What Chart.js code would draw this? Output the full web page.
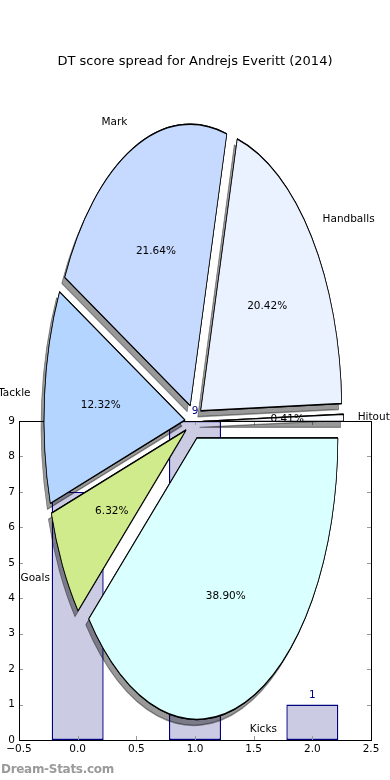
<!DOCTYPE html>
<html>
<head>
<meta charset="utf-8">
<script src="https://cdn.jsdelivr.net/npm/chart.js@4.4.0/dist/chart.umd.min.js"></script>
<style>
body { margin: 0; background: #fff; }
#wrap { position: relative; width: 390px; height: 780px; overflow: hidden; font-family: 'DejaVu Sans', sans-serif; }
canvas { position: absolute; left: 0; top: 0; }
#title { position: absolute; top: 53px; left: 0; width: 390px; text-align: center; font-size: 13px; line-height: 15px; color: #000; }
#credit { position: absolute; left: 1px; top: 762px; font-size: 12px; color: #9a9a9a; font-weight: bold; letter-spacing: -0.3px; }
</style>
</head>
<body>
<div id="wrap">
  <canvas id="bars" width="390" height="780"></canvas>
  <canvas id="pie" width="390" height="780"></canvas>
  <div id="title">DT score spread for Andrejs Everitt (2014)</div>
  <div id="credit">Dream-Stats.com</div>
</div>
<script>
// pie slices, clockwise from 3 o'clock
const sliceLabels = ['Kicks', 'Goals', 'Tackle', 'Mark', 'Handballs', 'Hitout'];
const slicePercents = [38.90, 6.32, 12.32, 21.64, 20.42, 0.41];
const sliceColors = ['#d9ffff', '#d0eb8c', '#b4d5ff', '#c6d9ff', '#ebf2ff', '#f9fbff'];

// bars underneath
const barX = [0, 1, 2];
const barValues = [7, 9, 1];
const xTicks = [-0.5, 0, 0.5, 1, 1.5, 2, 2.5];
const yTicks = [0, 1, 2, 3, 4, 5, 6, 7, 8, 9];

const FONT = 'DejaVu Sans';
const explode = 0.0624;
const stretch = 1.995; // pie axes are not square, so it is an ellipse

// ---- bar chart ----
const barBox = {
  id: 'barBox',
  afterDatasetsDraw(chart) {
    const ctx = chart.ctx;
    const meta = chart.getDatasetMeta(0);
    ctx.save();
    ctx.fillStyle = '#000080';
    ctx.font = '10.5px ' + FONT;
    ctx.textAlign = 'center';
    ctx.textBaseline = 'bottom';
    meta.data.forEach(function(bar, i) {
      ctx.fillText(String(barValues[i]), bar.x, bar.y - 4);
    });
    ctx.restore();
  },
  afterDraw(chart) {
    const ctx = chart.ctx;
    const a = chart.chartArea;
    const xs = chart.scales.x, ys = chart.scales.y;
    ctx.save();
    ctx.strokeStyle = '#999';
    ctx.lineWidth = 1;
    ctx.beginPath();
    xTicks.forEach(function(t) {
      const px = Math.round(xs.getPixelForValue(t)) + 0.5;
      ctx.moveTo(px, a.bottom); ctx.lineTo(px, a.bottom - 4);
      ctx.moveTo(px, a.top); ctx.lineTo(px, a.top + 4);
    });
    yTicks.forEach(function(t) {
      const py = Math.round(ys.getPixelForValue(t)) + 0.5;
      ctx.moveTo(a.left, py); ctx.lineTo(a.left + 4, py);
      ctx.moveTo(a.right, py); ctx.lineTo(a.right - 4, py);
    });
    ctx.stroke();
    ctx.strokeStyle = '#000';
    ctx.strokeRect(Math.round(a.left) + 0.5, Math.round(a.top) + 0.5,
      Math.round(a.right - a.left), Math.round(a.bottom - a.top));
    ctx.restore();
  }
};

new Chart(document.getElementById('bars'), {
  type: 'bar',
  data: {
    datasets: [{
      data: barX.map(function(x, i) { return {x: x, y: barValues[i]}; }),
      backgroundColor: '#cbcbe4',
      borderColor: '#000080',
      borderWidth: 1.4,
      borderSkipped: false,
      barPercentage: 0.886,
      categoryPercentage: 1
    }]
  },
  options: {
    responsive: false,
    animation: false,
    devicePixelRatio: 1,
    layout: { padding: { top: 421, right: 19, bottom: 0, left: 0 } },
    plugins: { legend: { display: false }, tooltip: { enabled: false } },
    scales: {
      x: {
        type: 'linear', min: -0.5, max: 2.5, offset: false,
        grid: { display: false, drawTicks: false, offset: false },
        border: { display: false },
        afterBuildTicks(scale) { scale.ticks = xTicks.map(function(v) { return {value: v}; }); },
        afterFit(scale) { scale.height = 40; },
        ticks: {
          color: '#000', padding: 3, maxRotation: 0, autoSkip: false,
          font: { family: FONT, size: 10.5 },
          callback: function(v) { return v.toFixed(1).replace('-', '\u2212'); }
        }
      },
      y: {
        min: 0, max: 9,
        grid: { display: false, drawTicks: false },
        border: { display: false },
        afterBuildTicks(scale) { scale.ticks = yTicks.map(function(v) { return {value: v}; }); },
        afterFit(scale) { scale.width = 19; },
        ticks: {
          color: '#000', padding: 4, autoSkip: false,
          font: { family: FONT, size: 10.5 },
          callback: function(v) { return String(v); }
        }
      }
    }
  },
  plugins: [barBox]
});

// ---- exploded pie on top ----
function sliceCentre(arc) {
  const mid = (arc.startAngle + arc.endAngle) / 2;
  const r = arc.outerRadius;
  return {
    mid: mid,
    x: arc.x + Math.cos(mid) * explode * r,
    y: arc.y + Math.sin(mid) * explode * r * stretch
  };
}

const pieDraw = {
  id: 'pieDraw',
  beforeDatasetsDraw(chart) {
    const ctx = chart.ctx;
    const arcs = chart.getDatasetMeta(0).data;
    [true, false].forEach(function(shadow) {
      arcs.forEach(function(arc) {
        const mid = (arc.startAngle + arc.endAngle) / 2;
        const d = explode * arc.outerRadius;
        ctx.save();
        ctx.translate(arc.x, arc.y);
        ctx.scale(1, stretch);
        ctx.translate(Math.cos(mid) * d - arc.x, Math.sin(mid) * d - arc.y);
        if (shadow) {
          ctx.shadowColor = 'rgba(0,0,0,0.4)';
          ctx.shadowOffsetX = -3;
          ctx.shadowOffsetY = 6;
          ctx.shadowBlur = 0;
        }
        arc.draw(ctx);
        ctx.restore();
      });
    });
    return false;
  },
  afterDraw(chart) {
    const ctx = chart.ctx;
    const arcs = chart.getDatasetMeta(0).data;
    ctx.save();
    ctx.fillStyle = '#000';
    ctx.font = '10.5px ' + FONT;
    ctx.textBaseline = 'middle';
    arcs.forEach(function(arc, i) {
      const c = sliceCentre(arc);
      const r = arc.outerRadius;
      const cos = Math.cos(c.mid), sin = Math.sin(c.mid);
      ctx.textAlign = cos > 0 ? 'left' : 'right';
      ctx.fillText(sliceLabels[i], c.x + cos * 1.1 * r, c.y + sin * 1.1 * r * stretch);
      ctx.textAlign = 'center';
      ctx.fillText(slicePercents[i].toFixed(2) + '%', c.x + cos * 0.6 * r, c.y + sin * 0.6 * r * stretch);
    });
    ctx.restore();
  }
};

new Chart(document.getElementById('pie'), {
  type: 'pie',
  data: {
    labels: sliceLabels,
    datasets: [{
      data: slicePercents,
      backgroundColor: sliceColors,
      borderColor: '#000',
      borderWidth: 0.75,
      clip: false
    }]
  },
  options: {
    responsive: false,
    animation: false,
    devicePixelRatio: 1,
    rotation: 90,
    radius: 141,
    layout: { padding: { top: 63.2, right: 2.4, bottom: 0, left: 0 } },
    plugins: { legend: { display: false }, tooltip: { enabled: false } }
  },
  plugins: [pieDraw]
});
</script>
</body>
</html>
